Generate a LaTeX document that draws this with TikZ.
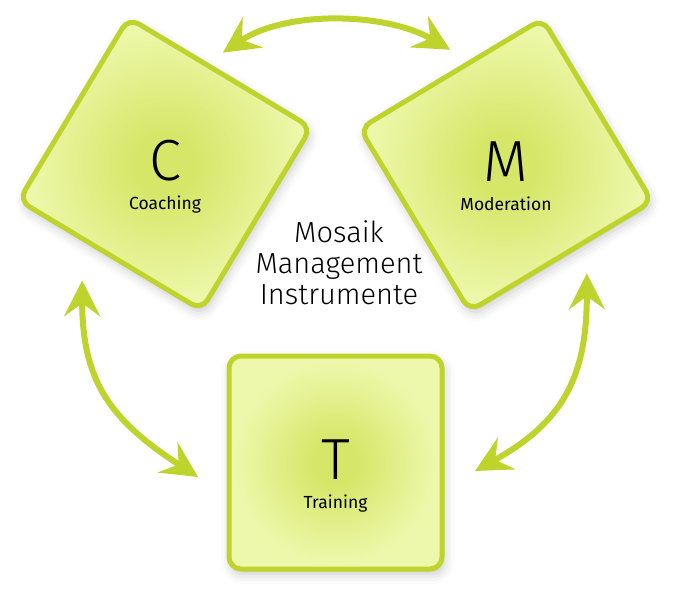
\documentclass[tikz,border=0pt]{standalone}
\usepackage{fontspec}
\setmainfont{Fira Sans}
\newfontfamily\thinface{Fira Sans Light}
\usetikzlibrary{arrows.meta,shadows.blur}
\definecolor{limeline}{RGB}{190,212,44}
\definecolor{limepale}{RGB}{238,248,172}
\definecolor{limecore}{RGB}{214,230,104}
\pgfdeclareradialshading{limeglow}{\pgfpoint{0bp}{0bp}}{%
  color(0bp)=(limecore); color(5bp)=(limecore);
  color(24bp)=(limepale); color(50bp)=(limepale)}
\tikzset{
  tile/.style={draw=limeline, line width=5pt, rounded corners=12pt,
    minimum size=213pt, inner sep=0pt, outer sep=0pt, shade, shading=limeglow,
    blur shadow={shadow xshift=2pt, shadow yshift=-5pt, shadow blur radius=10pt, shadow opacity=22}},
  glyph/.style={font=\thinface\fontsize{58}{60}\selectfont, inner sep=0pt},
  caption/.style={font=\fontsize{17.5}{20}\selectfont, anchor=base, inner sep=0pt},
  hub/.style={font=\thinface\fontsize{29}{31}\selectfont, align=center, inner sep=0pt},
  link/.style={draw=limeline, line width=6pt, <->,
    >={Stealth[length=36pt, width=36pt, inset=13pt]}},
}
\newcommand{\mtile}[5]{%
  \node[tile, rotate=#3] (#1) at (#2) {};
  \node[glyph] (#1-letter) at ([yshift=3pt]#1.center) {#4};
  \node[caption] (#1-label) at ([yshift=-46pt]#1.center) {#5};
}

\begin{document}
\begin{tikzpicture}[x=1pt,y=1pt]
  \useasboundingbox (0,0) rectangle (679,600);
  \mtile{C}{165,436}{-31}{C}{Coaching}
  \mtile{M}{506,435}{31}{M}{Moderation}
  \mtile{T}{335.5,137.5}{0}{T}{Training}
  \node[hub] (hub) at (339,337) {Mosaik\\Management\\Instrumente};
  % arrow ends beside the tiles
  \coordinate (cm-a) at ([shift={(3,20)}]C.north);
  \coordinate (cm-b) at ([shift={(-1,24)}]M.north);
  \coordinate (ct-a) at ([shift={(-28,-25)}]C.south);
  \coordinate (ct-b) at ([shift={(-31,-14.5)}]T.west);
  \coordinate (mt-a) at ([shift={(26,-17)}]M.south);
  \coordinate (mt-b) at ([shift={(33,-8.5)}]T.east);
  \draw[link] (cm-a) to[out=34, in=150, looseness=0.85] (cm-b);
  \draw[link] (ct-a) to[out=-90, in=147, looseness=1.15] (ct-b);
  \draw[link] (mt-a) to[out=-90, in=29, looseness=1.15] (mt-b);
\end{tikzpicture}
\end{document}
